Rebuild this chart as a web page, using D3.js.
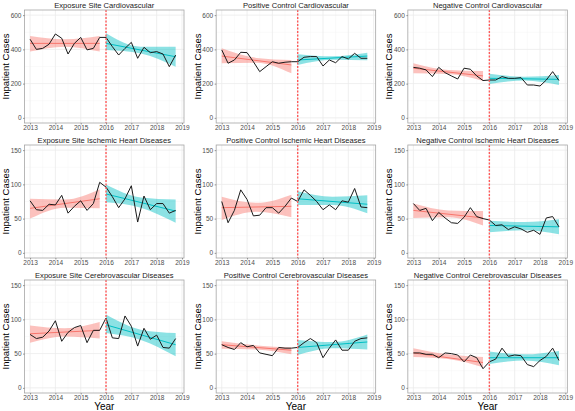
<!DOCTYPE html>
<html>
<head>
  <meta charset="utf-8"/>
  <title>Inpatient cases</title>
  <style type="text/css">
    body {
      padding:0;
      margin:0;
      background-color:white;
      font-family: "Liberation Sans", Arial, sans-serif;
    }
    .tick-label { font-size: 6.5px; fill: #4d4d4d; }
    .panel-title { font-size: 7.6px; fill: #1a1a1a; }
    .axis-title { font-size: 9.5px; fill: #000; }
  </style>
  <script src="https://cdn.jsdelivr.net/npm/d3@7/dist/d3.min.js" charset="utf-8"></script>
</head>

<body>
<script type="text/javascript">

  // DATA (quarterly inpatient cases)
  var quarters = [2013, 2013.25, 2013.5, 2013.75, 2014, 2014.25, 2014.5, 2014.75,
                  2015, 2015.25, 2015.5, 2015.75, 2016, 2016.25, 2016.5, 2016.75,
                  2017, 2017.25, 2017.5, 2017.75, 2018, 2018.25, 2018.5, 2018.75];
  var xTicks = [2013, 2014, 2015, 2016, 2017, 2018, 2019];
  var cardioTicks = [0, 200, 400, 600];
  var diseaseTicks = [0, 50, 100, 150];

  var titles = ["Exposure Site Cardiovascular", "Positive Control Cardiovascular", "Negative Control Cardiovascular",
                "Exposure Site Ischemic Heart Diseases", "Positive Control Ischemic Heart Diseases", "Negative Control Ischemic Heart Diseases",
                "Exposure Site Cerebrovascular Diseases", "Positive Control Cerebrovascular Diseases", "Negative Control Cerebrovascular Diseases"];

  var expCardio = [459, 400, 406, 430, 490, 465, 373, 435, 470, 397, 406, 470,
                   470, 416, 367, 406, 441, 348, 412, 381, 387, 373, 299, 367];
  var posCardio = [397, 319, 338, 383, 381, 328, 270, 299, 328, 319, 325, 328,
                   328, 354, 358, 358, 303, 338, 322, 358, 344, 377, 348, 348];
  var negCardio = [295, 290, 280, 241, 295, 264, 245, 227, 290, 284, 245, 218,
                   221, 221, 241, 231, 231, 235, 192, 192, 186, 221, 270, 218];
  var expIhd = [76, 63, 62, 71, 70, 84, 58, 68, 76, 62, 72, 103,
                96, 82, 66, 79, 98, 45, 83, 63, 72, 72, 58, 62];
  var posIhd = [75, 44, 62, 92, 78, 54, 55, 66, 66, 58, 68, 80,
                75, 92, 84, 75, 63, 70, 63, 76, 74, 94, 67, 66];
  var negIhd = [72, 62, 65, 47, 59, 51, 44, 43, 52, 66, 53, 50,
                48, 40, 41, 34, 38, 35, 30, 33, 27, 51, 53, 38];
  var expCere = [78, 72, 74, 83, 98, 68, 81, 88, 91, 66, 84, 84,
                 102, 73, 72, 105, 90, 61, 87, 71, 77, 59, 58, 72];
  var posCere = [63, 59, 56, 66, 60, 62, 51, 49, 47, 59, 58, 58,
                 59, 66, 72, 66, 44, 58, 70, 55, 55, 68, 72, 73];
  var negCere = [51, 51, 49, 49, 44, 51, 50, 48, 38, 48, 44, 28,
                 38, 42, 58, 46, 48, 47, 34, 31, 40, 46, 58, 40];

  var cases = [expCardio, posCardio, negCardio, expIhd, posIhd, negIhd, expCere, posCere, negCere];

  // fitted trend [start, end] before / after 2016
  var preTrend = [[435, 435], [361, 309], [290, 245], [65, 79], [66, 68], [62, 51], [79, 84], [63, 55], [51, 37]];
  var postTrend = [[435, 357], [338, 361], [231, 225], [86, 61], [79, 71], [40, 38], [92, 63], [59, 67], [44, 44]];

  // confidence band [lo, hi] at start, middle, end of each period
  var preBand = [
    [[387, 478], [416, 459], [387, 478]],
    [[319, 406], [322, 350], [260, 338]],
    [[260, 319], [256, 280], [216, 274]],
    [[50, 79], [66, 78], [65, 93]],
    [[48, 82], [60, 73], [52, 85]],
    [[51, 72], [52, 62], [40, 61]],
    [[66, 91], [75, 87], [72, 96]],
    [[57, 68], [56, 62], [49, 59]],
    [[45, 58], [42, 49], [30, 45]]
  ];
  var postBand = [
    [[397, 494], [376, 416], [299, 416]],
    [[309, 372], [340, 360], [337, 380]],
    [[198, 258], [218, 240], [192, 250]],
    [[74, 100], [66, 81], [44, 78]],
    [[70, 90], [70, 82], [58, 84]],
    [[30, 47], [33, 45], [27, 49]],
    [[80, 107], [70, 85], [46, 80]],
    [[48, 70], [58, 67], [56, 78]],
    [[35, 53], [40, 49], [33, 54]]
  ];

  // LAYOUT
  var w = 575, h = 411;
  var colW = w / 3, rowH = 135;
  var pLeft = 24.5, pRight = 184, pTop = 10, pBottom = 123;

  var preColor = "#F8766D", postColor = "#00BFC4";

  var svg = d3.select("body").append("svg")
              .attr("width", w)
              .attr("height", h);

  titles.forEach(function(title, i) {
    var r = Math.floor(i / 3), c = i % 3;
    var g = svg.append("g").attr("transform", "translate(" + (c * colW) + "," + (r * rowH) + ")");

    var x = d3.scaleLinear().domain([2012.78, 2019.08]).range([pLeft, pRight]);
    var yTicks = r === 0 ? cardioTicks : diseaseTicks;
    var yMax = yTicks[yTicks.length - 1], pad = yMax * 0.05;
    var y = d3.scaleLinear().domain([-pad, yMax + pad]).range([pBottom, pTop]);

    // grid, minor then major
    var xMinor = xTicks.slice(0, -1).map(function(t) { return t + 0.5; });
    var yMinor = yTicks.slice(0, -1).map(function(t, k) { return (t + yTicks[k + 1]) / 2; });

    g.selectAll(".xminor").data(xMinor).enter().append("line")
     .attr("x1", x).attr("x2", x).attr("y1", pTop).attr("y2", pBottom)
     .style("stroke", "#f4f4f4").style("stroke-width", 0.5);
    g.selectAll(".yminor").data(yMinor).enter().append("line")
     .attr("x1", pLeft).attr("x2", pRight).attr("y1", y).attr("y2", y)
     .style("stroke", "#f4f4f4").style("stroke-width", 0.5);
    g.selectAll(".xmajor").data(xTicks).enter().append("line")
     .attr("x1", x).attr("x2", x).attr("y1", pTop).attr("y2", pBottom)
     .style("stroke", "#ebebeb").style("stroke-width", 0.8);
    g.selectAll(".ymajor").data(yTicks).enter().append("line")
     .attr("x1", pLeft).attr("x2", pRight).attr("y1", y).attr("y2", y)
     .style("stroke", "#ebebeb").style("stroke-width", 0.8);

    // bands and trends
    var periods = [
      { xs: [2013, 2014.375, 2015.75], band: preBand[i], trend: preTrend[i], color: preColor },
      { xs: [2016, 2017.375, 2018.75], band: postBand[i], trend: postTrend[i], color: postColor }
    ];

    periods.forEach(function(p) {
      var pts = p.xs.map(function(xv, k) { return { x: xv, lo: p.band[k][0], hi: p.band[k][1] }; });
      var area = d3.area()
                   .x(function(d) { return x(d.x); })
                   .y0(function(d) { return y(d.lo); })
                   .y1(function(d) { return y(d.hi); })
                   .curve(d3.curveMonotoneX);
      g.append("path").datum(pts)
       .attr("d", area)
       .style("fill", p.color)
       .style("opacity", 0.45);
      g.append("line")
       .attr("x1", x(p.xs[0])).attr("x2", x(p.xs[2]))
       .attr("y1", y(p.trend[0])).attr("y2", y(p.trend[1]))
       .style("stroke", p.color).style("stroke-width", 1);
    });

    // observed series
    var line = d3.line()
                 .x(function(d, k) { return x(quarters[k]); })
                 .y(function(d) { return y(d); });
    g.append("path").datum(cases[i])
     .attr("d", line)
     .style("fill", "none")
     .style("stroke", "#1a1a1a")
     .style("stroke-width", 1);

    // intervention line
    g.append("line")
     .attr("x1", x(2016)).attr("x2", x(2016)).attr("y1", pTop).attr("y2", pBottom)
     .style("stroke", "#ff5a5a").style("stroke-width", 1.4)
     .style("stroke-dasharray", "2,1.5");

    // border
    g.append("rect")
     .attr("x", pLeft).attr("y", pTop)
     .attr("width", pRight - pLeft).attr("height", pBottom - pTop)
     .style("fill", "none").style("stroke", "#a6a6a6").style("stroke-width", 0.8);

    // axes
    var xAxis = g.append("g").attr("transform", "translate(0," + pBottom + ")")
                 .call(d3.axisBottom(x).tickValues(xTicks).tickFormat(d3.format("d")).tickSize(1.5).tickPadding(0.8));
    var yAxis = g.append("g").attr("transform", "translate(" + pLeft + ",0)")
                 .call(d3.axisLeft(y).tickValues(yTicks).tickSize(1.5).tickPadding(1.5));
    [xAxis, yAxis].forEach(function(a) {
      a.select(".domain").remove();
      a.selectAll(".tick line").style("stroke", "#555").style("stroke-width", 0.6);
      a.selectAll(".tick text").attr("class", "tick-label")
       .style("font-family", "'Liberation Sans', Arial, sans-serif");
    });

    g.append("text")
     .attr("class", "panel-title")
     .attr("x", (pLeft + pRight) / 2)
     .attr("y", 7.5)
     .attr("text-anchor", "middle")
     .text(title);

    g.append("text")
     .attr("class", "axis-title")
     .attr("transform", "translate(9," + ((pTop + pBottom) / 2) + ") rotate(-90)")
     .attr("text-anchor", "middle")
     .text("Inpatient Cases");

    if (r === 2) {
      g.append("text")
       .attr("class", "axis-title")
       .attr("x", (pLeft + pRight) / 2)
       .attr("y", 410)
       .attr("transform", "translate(0," + (-r * rowH) + ")")
       .attr("text-anchor", "middle")
       .style("font-size", "10px")
       .text("Year");
    }
  });

</script>
</body>
</html>
